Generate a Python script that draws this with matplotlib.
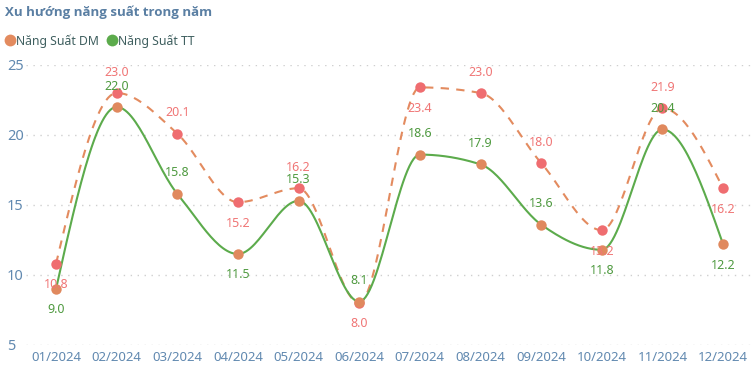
import numpy as np
import matplotlib
matplotlib.use('Agg')
import matplotlib.pyplot as plt
import matplotlib.transforms as mtrans
from matplotlib.lines import Line2D

plt.rcParams['font.family'] = ['Noto Sans', 'DejaVu Sans']

months = ['01/2024', '02/2024', '03/2024', '04/2024', '05/2024', '06/2024',
          '07/2024', '08/2024', '09/2024', '10/2024', '11/2024', '12/2024']
ns_dm = [10.8, 23.0, 20.1, 15.2, 16.2, 8.0, 23.4, 23.0, 18.0, 13.2, 21.9, 16.2]
ns_tt = [9.0, 22.0, 15.8, 11.5, 15.3, 8.1, 18.6, 17.9, 13.6, 11.8, 20.4, 12.2]
yticks = [5, 10, 15, 20, 25]

# label side per point: +1 above, -1 below
dm_side = [-1, 1, 1, -1, 1, -1, -1, 1, 1, -1, 1, -1]
tt_side = [-1, 1, 1, -1, 1, 1, 1, 1, 1, -1, 1, -1]

c_dm_line = '#e38b5f'
c_dm_pt = '#ef6d70'
c_dm_txt = '#f07676'
c_tt_line = '#5cab4c'
c_tt_pt = '#e0895e'
c_tt_txt = '#4f9a40'
c_axis = '#6189b0'


def monotone_x(x, y, n=30):
    # d3 curveMonotoneX style interpolation
    x = np.asarray(x, float)
    y = np.asarray(y, float)
    h = np.diff(x)
    s = np.diff(y) / h
    m = np.zeros_like(y)
    for i in range(1, len(y) - 1):
        p = (s[i - 1] * h[i] + s[i] * h[i - 1]) / (h[i - 1] + h[i])
        m[i] = (np.sign(s[i - 1]) + np.sign(s[i])) * min(abs(s[i - 1]), abs(s[i]), 0.5 * abs(p))
    m[0] = (3 * s[0] - m[1]) / 2
    m[-1] = (3 * s[-1] - m[-2]) / 2
    xs, ys = [], []
    for i in range(len(x) - 1):
        t = np.linspace(0, 1, n)
        h00 = 2 * t**3 - 3 * t**2 + 1
        h10 = t**3 - 2 * t**2 + t
        h01 = -2 * t**3 + 3 * t**2
        h11 = t**3 - t**2
        xs.append(x[i] + t * h[i])
        ys.append(h00 * y[i] + h10 * h[i] * m[i] + h01 * y[i + 1] + h11 * h[i] * m[i + 1])
    return np.concatenate(xs), np.concatenate(ys)


fig = plt.figure(figsize=(7.55, 3.69), dpi=100)
ax = fig.add_axes([25.7 / 755, 24 / 369, 727.7 / 755, 280 / 369])
x = np.arange(len(months))

ax.set_xlim(-0.5, len(months) - 0.5)
ax.set_ylim(5, 25)
for v in yticks:
    ax.axhline(v, color='#cfcfcf', lw=1, ls=(0, (1, 4)), zorder=0)

xd, yd = monotone_x(x, ns_dm)
ax.plot(xd, yd, color=c_dm_line, lw=1.5, ls=(0, (4, 3.5)), zorder=2, clip_on=False)
xt, yt = monotone_x(x, ns_tt)
ax.plot(xt, yt, color=c_tt_line, lw=1.5, zorder=3, clip_on=False)
ax.plot(x, ns_dm, 'o', color=c_dm_pt, ms=7.5, mew=0, zorder=4, clip_on=False)
ax.plot(x, ns_tt, 'o', color=c_tt_pt, ms=7.5, mew=0, zorder=5, clip_on=False)

for i in range(len(months)):
    ax.annotate(f'{ns_dm[i]:.1f}', (x[i], ns_dm[i]), xytext=(0, 15 * dm_side[i]),
                textcoords='offset points', ha='center', va='center',
                color=c_dm_txt, fontsize=9, zorder=6)
    ax.annotate(f'{ns_tt[i]:.1f}', (x[i], ns_tt[i]), xytext=(0, 15 * tt_side[i]),
                textcoords='offset points', ha='center', va='center',
                color=c_tt_txt, fontsize=9, zorder=6)

ax.set_xticks(x)
ax.set_xticklabels(months)
ax.set_yticks(yticks)
ax.tick_params(length=0, colors=c_axis, labelsize=9.5, pad=4)
ax.tick_params(axis='y', labelsize=10.5, pad=0)
for sp in ax.spines.values():
    sp.set_visible(False)
for lbl in ax.get_yticklabels():
    lbl.set_transform(mtrans.blended_transform_factory(fig.transFigure, ax.transData))
    lbl.set_x(7 / 755)
    lbl.set_ha('left')

fig.text(5 / 755, 1 - 12 / 369, 'Xu hướng năng suất trong năm', color='#5a7fa3',
         fontsize=9.5, fontweight='bold', va='center', ha='left',
         family=['Open Sans', 'DejaVu Sans'])

handles = [Line2D([], [], ls='none', marker='o', ms=8.5, mew=0, color=c_dm_line),
           Line2D([], [], ls='none', marker='o', ms=8.5, mew=0, color=c_tt_line)]
leg = fig.legend(handles, ['Năng Suất DM', 'Năng Suất TT'], loc='center left',
                 bbox_to_anchor=(0, 1 - 41 / 369), ncol=2, frameon=False,
                 fontsize=8.8, handletextpad=0.05, columnspacing=0.5,
                 handlelength=1.0, borderaxespad=0, borderpad=0.3)
for t in leg.get_texts():
    t.set_color('#3f5f5f')

fig.savefig('out.png', dpi=100)
